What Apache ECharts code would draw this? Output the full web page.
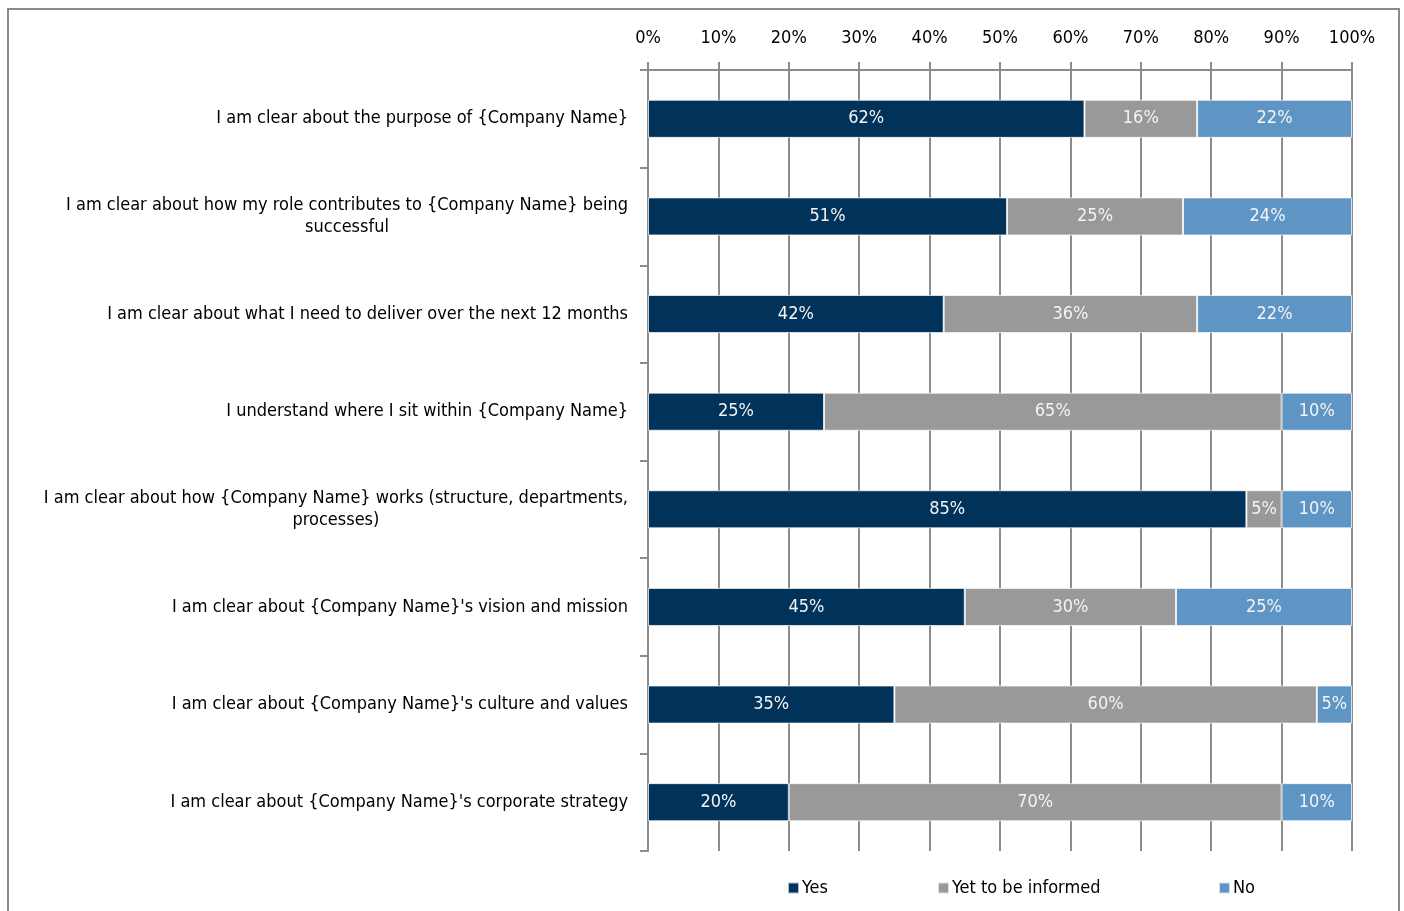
<!DOCTYPE html>
<html>
<head>
<meta charset="utf-8">
<script src="https://cdn.jsdelivr.net/npm/echarts@6/dist/echarts.min.js"></script>
<style>
  html, body { margin: 0; padding: 0; background: #fff; }
  #chart { width: 1404px; height: 911px; }
</style>
</head>
<body>
<div id="chart"></div>
<script>
// Survey statements (top to bottom)
const categories = [
  "I am clear about the purpose of {Company Name}",
  "I am clear about how my role contributes to {Company Name} being\nsuccessful",
  "I am clear about what I need to deliver over the next 12 months",
  "I understand where I sit within {Company Name}",
  "I am clear about how {Company Name} works (structure, departments,\nprocesses)",
  "I am clear about {Company Name}'s vision and mission",
  "I am clear about {Company Name}'s culture and values",
  "I am clear about {Company Name}'s corporate strategy"
];

// Share of responses, in percent
const yesValues = [62, 51, 42, 25, 85, 45, 35, 20];
const yetValues = [16, 25, 36, 65, 5, 30, 60, 70];
const noValues  = [22, 24, 22, 10, 10, 25, 5, 10];

const seriesNames = ["Yes", "Yet to be informed", "No"];
const tickLabels = ["0%", "10%", "20%", "30%", "40%", "50%", "60%", "70%", "80%", "90%", "100%"];

const FONT = "DejaVu Sans Condensed";
const FS = 18;
const TEXT = "#000";
const colors = ["#00325a", "#999999", "#5f95c5"];
const gridGray = "#8c8c8c";

const chart = echarts.init(document.getElementById("chart"), null, { renderer: "canvas" });

// Wrap a line in centred rich tokens; a literal "}" cannot live inside a
// token, so it is left as plain text between two centred tokens.
function centredLine(line) {
  return line.split("}").map(function (p) { return "{c|" + p + "}"; }).join("}");
}

function barSeries(name, values, color) {
  return {
    name: name,
    type: "bar",
    stack: "total",
    barWidth: "39%",
    data: values,
    itemStyle: { color: color, borderColor: "rgba(255,255,255,0.7)", borderWidth: 1 },
    label: {
      show: true,
      position: "inside",
      formatter: function (p) { return p.value + "%"; },
      color: "#f4f4f4",
      fontFamily: FONT,
      fontSize: FS
    }
  };
}

function legendAt(name, left) {
  return {
    data: [name],
    left: left,
    top: 874,
    itemWidth: 11,
    itemHeight: 11,
    itemGap: 0,
    icon: "rect",
    textStyle: { fontFamily: FONT, fontSize: FS, color: TEXT, padding: [0, 0, 0, -2] }
  };
}

chart.setOption({
  animation: false,
  backgroundColor: "#fff",
  color: colors,
  graphic: [{
    type: "rect",
    shape: { x: 8, y: 9, width: 1391, height: 920 },
    style: { fill: "none", stroke: "#8a8a8a", lineWidth: 2 },
    silent: true,
    z: -1
  }],
  legend: [
    legendAt(seriesNames[0], 782),
    legendAt(seriesNames[1], 932),
    legendAt(seriesNames[2], 1213)
  ],
  grid: { left: 648, right: 52, top: 70, bottom: 60, containLabel: false },
  xAxis: {
    type: "value",
    position: "top",
    min: 0,
    max: 100,
    interval: 10,
    axisLine: { show: true, lineStyle: { color: gridGray, width: 2 } },
    axisTick: { show: true, length: 8, lineStyle: { color: gridGray, width: 2 } },
    splitLine: { show: true, lineStyle: { color: gridGray, width: 2 } },
    axisLabel: {
      formatter: function (v) { return tickLabels[Math.round(v / 10)]; },
      fontFamily: FONT,
      fontSize: FS,
      color: TEXT,
      margin: 23
    }
  },
  yAxis: {
    type: "category",
    inverse: true,
    data: categories,
    axisLine: { show: true, lineStyle: { color: gridGray, width: 2 } },
    axisTick: { show: true, length: 8, lineStyle: { color: gridGray, width: 2 } },
    axisLabel: {
      margin: 20,
      fontFamily: FONT,
      fontSize: FS,
      color: TEXT,
      lineHeight: 22,
      formatter: function (v) {
        const lines = v.split("\n");
        if (lines.length === 1) return v;
        return lines.map(centredLine).join("\n");
      },
      rich: {
        c: { align: "center", fontFamily: FONT, fontSize: FS, color: TEXT, lineHeight: 22 }
      }
    }
  },
  series: [
    barSeries(seriesNames[0], yesValues, colors[0]),
    barSeries(seriesNames[1], yetValues, colors[1]),
    barSeries(seriesNames[2], noValues, colors[2])
  ]
});
</script>
</body>
</html>
